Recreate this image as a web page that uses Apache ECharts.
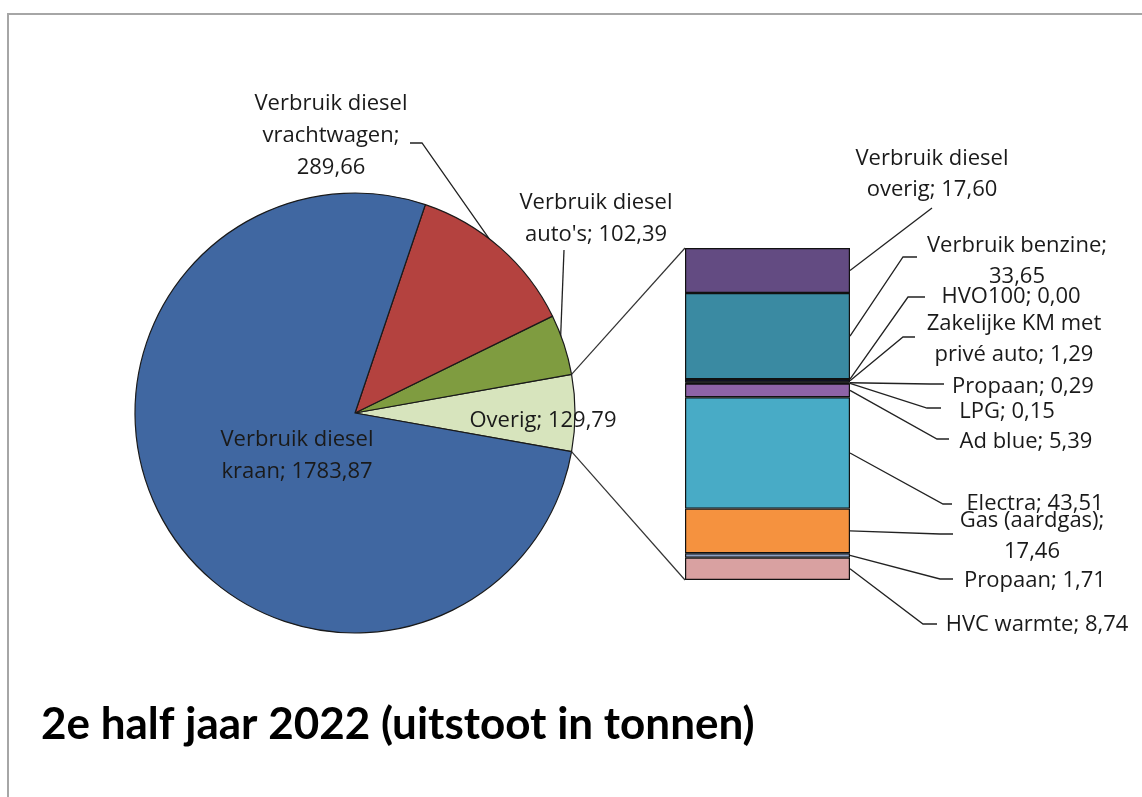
<!DOCTYPE html>
<html>
<head>
<meta charset="utf-8">
<script src="https://cdn.jsdelivr.net/npm/echarts@6/dist/echarts.min.js"></script>
<style>
html, body { margin: 0; padding: 0; background: #fff; }
#chart { position: absolute; left: 0; top: 0; width: 1142px; height: 797px; }
#frame { position: absolute; left: 7px; top: 13px; right: 0; bottom: 0; border-top: 2px solid #a6a6a6; border-left: 2px solid #a6a6a6; pointer-events: none; }
</style>
</head>
<body>
<div id="chart"></div>
<div id="frame"></div>
<script>
// pie: Overig first, then counter-clockwise
var pieNames = ['Overig', "Verbruik diesel\nauto's", 'Verbruik diesel\nvrachtwagen', 'Verbruik diesel\nkraan']
var pieValues = [129.79, 102.39, 289.66, 1783.87]
var pieSep = ['; ', '; ', ';\n', '; ']
var pieColors = ['#d7e4bd', '#7f9c40', '#b4423f', '#4067a1']

// bar of "Overig", top to bottom
var barNames = ['Verbruik diesel\noverig', 'Verbruik benzine', 'HVO100', 'Zakelijke KM met\nprivé auto', 'Propaan', 'LPG', 'Ad blue', 'Electra', 'Gas (aardgas)', 'Propaan', 'HVC warmte']
var barValues = [17.60, 33.65, 0.00, 1.29, 0.29, 0.15, 5.39, 43.51, 17.46, 1.71, 8.74]
var barSep = ['; ', ';\n', '; ', '; ', '; ', '; ', '; ', '; ', ';\n', '; ', '; ']
var barColors = ['#634b82', '#3a8aa2', '#2a6f8a', '#10102a', '#6a5a8a', '#3a3a6a', '#8e63a7', '#48abc6', '#f5923f', '#8c9fc2', '#d9a1a1']

var chartTitle = '2e half jaar 2022 (uitstoot in tonnen)'

var pieCenter = [355, 413]
var pieRadius = 220

// label placement (centre of text block) and leader line bends
var pieLabelPos = [[543, 421], [596, 219], [331, 136], [297, 456]]
var pieLineEnd = [null, [[564, 250]], [[422, 143], [410, 143]], null]
var barLabelPos = [[932, 174], [1017, 261], [1011, 297], [1014, 339], [1023, 387], [1007, 412], [1026, 442], [1035, 504], [1032, 536], [1035, 581], [1037, 625]]
var barLineEnd = [
  [[932, 208]],
  [[903, 257], [917, 257]],
  [[908, 297], [925, 297]],
  [[903, 337], [915, 337]],
  [[930, 384], [944, 384]],
  [[927, 408], [941, 408]],
  [[937, 439], [949, 439]],
  [[943, 504], [952, 504]],
  [[940, 534], [953, 534]],
  [[940, 579], [953, 579]],
  [[923, 624], [937, 624]]
]

var font = 'Open Sans'
var fmt = function(v) { return v.toFixed(2).replace('.', ',') }

var pieTotal = pieValues.reduce(function(a, b) { return a + b }, 0)
var startAngle = -pieValues[0] / pieTotal * 180

function piePoint(angleDeg, r) {
  var a = angleDeg * Math.PI / 180
  return [pieCenter[0] + r * Math.cos(a), pieCenter[1] - r * Math.sin(a)]
}
function pieMidAngle(i) {
  var cum = 0
  for (var k = 0; k < i; k++) cum += pieValues[k]
  return startAngle + (cum + pieValues[i] / 2) / pieTotal * 360
}

var pieData = pieValues.map(function(v, i) {
  return {
    name: pieNames[i],
    value: v,
    itemStyle: { color: pieColors[i] },
    labelLine: { show: !!pieLineEnd[i] }
  }
})

var barSeries = barValues.map(function(v, i) {
  return {
    type: 'bar',
    name: barNames[i],
    stack: 'overig',
    barWidth: '100%',
    data: [v],
    itemStyle: { color: barColors[i], borderColor: '#111', borderWidth: 1.2 },
    label: {
      show: true,
      formatter: barNames[i] + barSep[i] + fmt(v),
      fontFamily: font,
      fontSize: 22,
      lineHeight: 31,
      color: '#1a1a1a'
    },
    labelLayout: {
      x: barLabelPos[i][0],
      y: barLabelPos[i][1],
      align: 'center',
      verticalAlign: 'middle'
    }
  }
})

var myChart = echarts.init(document.getElementById('chart'))
var option = {
  animation: false,
  title: {
    text: chartTitle,
    left: 36,
    top: 698,
    textStyle: { fontFamily: 'Lato', fontWeight: 'bold', fontSize: 44, color: '#000' }
  },
  grid: { left: 685, top: 248, width: 165, height: 332 },
  xAxis: { type: 'category', data: ['Overig'], show: false },
  yAxis: { type: 'value', inverse: true, min: 0, max: pieValues[0], show: false },
  series: [
    {
      type: 'pie',
      center: pieCenter,
      radius: pieRadius,
      startAngle: startAngle,
      clockwise: false,
      avoidLabelOverlap: false,
      data: pieData,
      itemStyle: { borderColor: '#1a1a1a', borderWidth: 1.2 },
      label: {
        show: true,
        position: 'outside',
        formatter: function(p) { return p.name + pieSep[p.dataIndex] + fmt(p.value) },
        fontFamily: font,
        fontSize: 22,
        lineHeight: 32,
        color: '#1a1a1a'
      },
      labelLine: { lineStyle: { color: '#222', width: 1.3 } },
      labelLayout: function(params) {
        var i = params.dataIndex
        var res = { x: pieLabelPos[i][0], y: pieLabelPos[i][1], align: 'center', verticalAlign: 'middle' }
        if (pieLineEnd[i]) {
          res.labelLinePoints = [piePoint(pieMidAngle(i), pieRadius - 4)].concat(pieLineEnd[i])
        }
        return res
      }
    }
  ].concat(barSeries)
}
myChart.setOption(option)

// connector lines from the Overig slice to the bar, and leader lines of the bar labels
var halfAngle = pieValues[0] / pieTotal * 180
var barHalf = 165 / 2
var topLeft = myChart.convertToPixel({ xAxisIndex: 0, yAxisIndex: 0 }, ['Overig', 0])
var botLeft = myChart.convertToPixel({ xAxisIndex: 0, yAxisIndex: 0 }, ['Overig', pieValues[0]])
var graphics = [
  { type: 'line', shape: { x1: piePoint(halfAngle, pieRadius)[0], y1: piePoint(halfAngle, pieRadius)[1], x2: topLeft[0] - barHalf, y2: topLeft[1] }, style: { stroke: '#333', lineWidth: 1.2 }, z: 10 },
  { type: 'line', shape: { x1: piePoint(-halfAngle, pieRadius)[0], y1: piePoint(-halfAngle, pieRadius)[1], x2: botLeft[0] - barHalf, y2: botLeft[1] }, style: { stroke: '#333', lineWidth: 1.2 }, z: 10 }
]
var cum = 0
barValues.forEach(function(v, i) {
  var mid = myChart.convertToPixel({ xAxisIndex: 0, yAxisIndex: 0 }, ['Overig', cum + v / 2])
  cum += v
  graphics.push({
    type: 'polyline',
    shape: { points: [[mid[0] + barHalf, mid[1]]].concat(barLineEnd[i]) },
    style: { stroke: '#222', lineWidth: 1.3, fill: null },
    z: 10
  })
})
myChart.setOption({ graphic: graphics })
window.addEventListener('resize', function() { myChart.resize() })
</script>
</body>
</html>
